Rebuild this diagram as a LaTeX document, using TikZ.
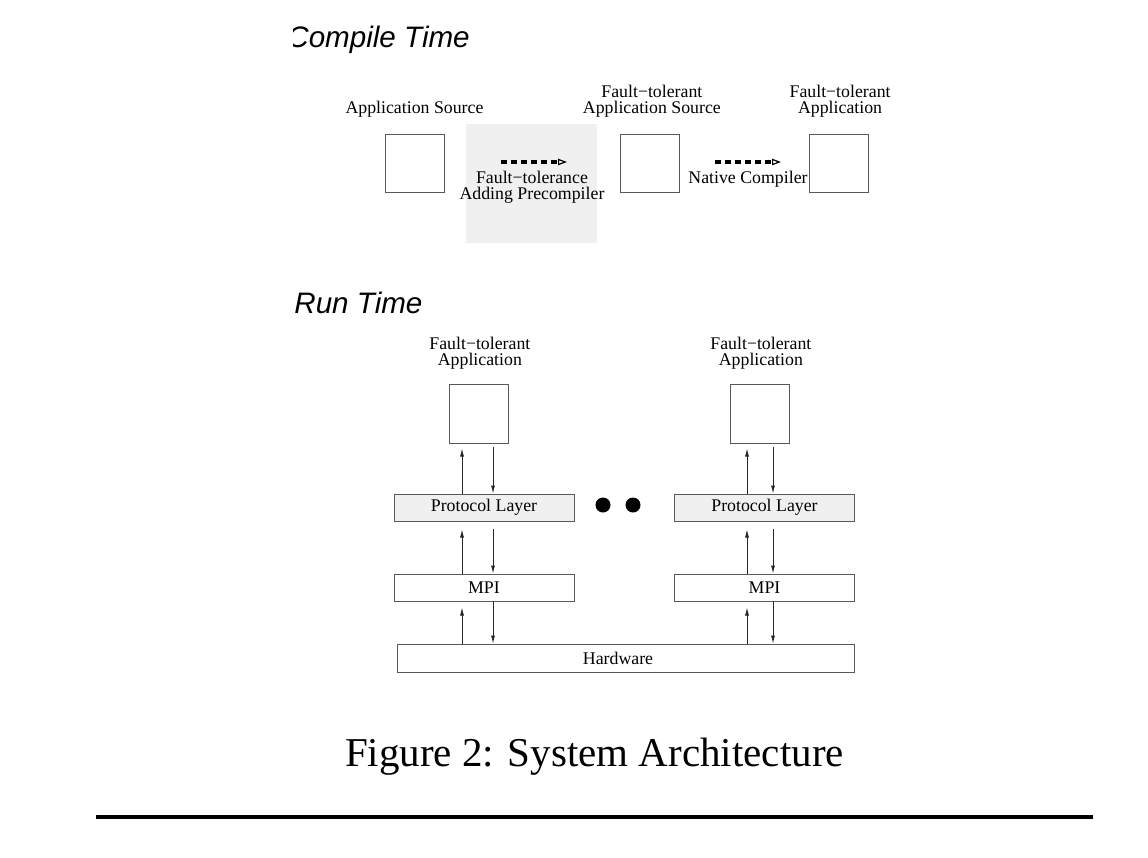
\documentclass[tikz,border=0pt]{standalone}
\usepackage{fontspec}
\setmainfont{Liberation Serif}
\newfontfamily\headfont{Liberation Sans}
\usepackage{xcolor}
\usetikzlibrary{positioning}
\usetikzlibrary{arrows, arrows.meta}

\definecolor{shade}{gray}{0.94}
\definecolor{edge}{gray}{0.35}
\newcommand{\lblfont}{\fontsize{8.9}{8}\selectfont}

\tikzset{
  box/.style={draw=edge, line width=0.5pt, minimum width=29.5pt, minimum height=29pt, inner sep=0pt},
  layer/.style={draw=edge, line width=0.5pt, minimum width=90pt, minimum height=13.5pt, inner sep=0pt, font=\lblfont},
  lbl/.style={font=\lblfont, align=center, inner sep=0pt},
  head/.style={font=\headfont\itshape\fontsize{14.8}{16}\selectfont, anchor=base west, inner sep=0pt},
  flow/.style={-{Latex[length=4pt,width=2pt]}, line width=0.4pt, black!85},
  pass/.style={line width=1.6pt, dash pattern=on 3pt off 2pt, -{Triangle[open,length=4.5pt,width=3.2pt,line width=0.6pt]}}
}

\begin{document}
\begin{tikzpicture}[x=0.5pt, y=-0.5pt]
  \useasboundingbox (0,0) rectangle (1148,858);

  % Compile time
  \begin{scope}
    \clip (293,0) rectangle (1148,280);
    \node[head] (ctime) at (287,47) {Compile Time};
  \end{scope}

  \node[fill=shade, minimum width=65.5pt, minimum height=59.5pt, inner sep=0pt] (precomp) at (531.5,183.5) {};

  \node[box] (src) at (414.5,163) {};
  \node[box] (ftsrc) at (649.5,163) {};
  \node[box] (ftapp) at (838.5,163) {};

  \node[lbl, above=8pt of src] (srclbl) {Application Source};
  \node[lbl, above=8pt of ftsrc, xshift=1.2pt] (ftsrclbl) {Fault−tolerant\\Application Source};
  \node[lbl, above=8pt of ftapp, xshift=0.8pt] (ftapplbl) {Fault−tolerant\\Application};

  \coordinate (pre0) at (501,162);
  \coordinate (pre1) at (567,162);
  \draw[pass] (pre0) -- (pre1);
  \node[lbl, anchor=north] (prelbl) at (532,171) {Fault−tolerance\\Adding Precompiler};

  \coordinate (nat0) at (715,162);
  \coordinate (nat1) at (781,162);
  \draw[pass] (nat0) -- (nat1);
  \node[lbl, anchor=north] (natlbl) at (748,171) {Native Compiler};

  % Run time
  \node[head] (rtime) at (294,313) {Run Time};

  \node[box, minimum height=29.5pt] (app1) at (478.5,413.5) {};
  \node[box, minimum height=29.5pt] (app2) at (759.5,413.5) {};
  \node[lbl, above=7pt of app1, xshift=0.7pt] (app1lbl) {Fault−tolerant\\Application};
  \node[lbl, above=7pt of app2, xshift=0.7pt] (app2lbl) {Fault−tolerant\\Application};

  \node[layer, fill=shade] (prot1) at (484,507.5) {Protocol Layer};
  \node[layer, fill=shade] (prot2) at (764.5,507.5) {Protocol Layer};
  \node[layer] (mpi1) at (484,587.5) {MPI};
  \node[layer] (mpi2) at (764.5,587.5) {MPI};
  \node[layer, minimum width=228.5pt, minimum height=14pt] (hw) at (625.5,658) {Hardware\hspace*{7.5pt}};

  \fill (603,505) circle[radius=3.75pt];
  \fill (633,505) circle[radius=3.75pt];

  % arrow columns
  \coordinate (up1) at (462,0);
  \coordinate (dn1) at (493,0);
  \coordinate (up2) at (747,0);
  \coordinate (dn2) at (773,0);

  \draw[flow, shorten >=2.5pt] (prot1.north -| up1) -- (app1.south -| up1);
  \draw[flow, shorten <=1.5pt] (app1.south -| dn1) -- (prot1.north -| dn1);
  \draw[flow, shorten >=4pt] (mpi1.north -| up1) -- (prot1.south -| up1);
  \draw[flow, shorten <=3.5pt] (prot1.south -| dn1) -- (mpi1.north -| dn1);
  \draw[flow, shorten >=3pt] (hw.north -| up1) -- (mpi1.south -| up1);
  \draw[flow] (mpi1.south -| dn1) -- (hw.north -| dn1);

  \draw[flow, shorten >=2.5pt] (prot2.north -| up2) -- (app2.south -| up2);
  \draw[flow, shorten <=1.5pt] (app2.south -| dn2) -- (prot2.north -| dn2);
  \draw[flow, shorten >=4pt] (mpi2.north -| up2) -- (prot2.south -| up2);
  \draw[flow, shorten <=3.5pt] (prot2.south -| dn2) -- (mpi2.north -| dn2);
  \draw[flow, shorten >=3pt] (hw.north -| up2) -- (mpi2.south -| up2);
  \draw[flow] (mpi2.south -| dn2) -- (hw.north -| dn2);

  % caption
  \node[font=\fontsize{20.5}{24}\selectfont, anchor=base, inner sep=0pt] (caption) at (594.5,766) {Figure 2: System Architecture};
  \coordinate (rule0) at (96,817);
  \coordinate (rule1) at (1093,817);
  \draw[line width=2.2pt] (rule0) -- (rule1);

\end{tikzpicture}
\end{document}
